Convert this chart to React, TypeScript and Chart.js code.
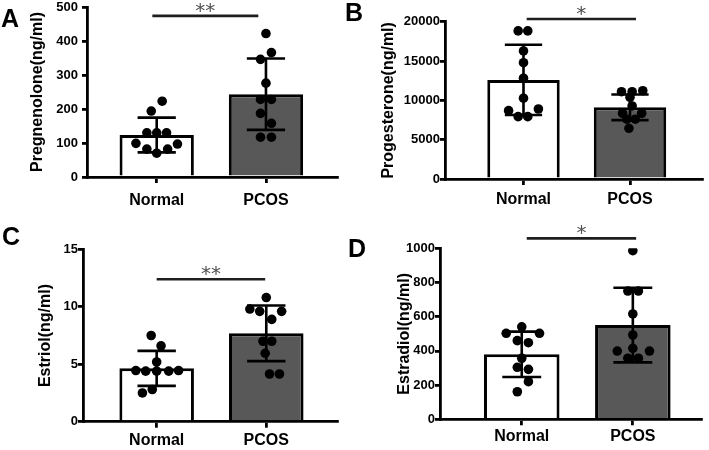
import { useEffect, useRef } from 'react';
import { Chart, registerables } from 'chart.js';

Chart.register(...registerables);

const FONT = "'Liberation Sans', Arial, Helvetica, sans-serif";

// Categories
const groups = ['Normal', 'PCOS'];

// ---- A: Pregnenolone ----
const pregMeans = [123.5, 243.5];
const pregSD = [51, 105];
const pregNormalY = [223, 194, 130, 130, 130, 99, 97, 82, 70, 82];
const pregNormalJitter = [0.05, -0.05, -0.09, 0, 0.09, -0.19, 0.19, -0.09, 0, 0.1];
const pregPcosY = [422, 366, 346, 276, 228, 228, 187, 158, 117, 117];
const pregPcosJitter = [0, 0.05, -0.05, 0, -0.05, 0.05, -0.05, 0.05, -0.05, 0.05];
const pregSig = [-0.04, 0.93, 474];
const pregTicks = [0, 500, 100];

// ---- B: Progesterone ----
const progMeans = [12600, 9120];
const progSD = [4470, 1630];
const progNormalY = [18830, 18830, 16280, 14790, 12810, 10270, 8690, 8900, 7930, 7930];
const progNormalJitter = [-0.05, 0.04, 0, 0, 0, 0, -0.14, 0.14, -0.05, 0.04];
const progPcosY = [11100, 11100, 11230, 10390, 9290, 8360, 8360, 7600, 7600, 6450];
const progPcosJitter = [-0.08, 0.02, 0.12, 0, 0.02, -0.07, 0.11, -0.03, 0.05, -0.01];
const progSig = [0.03, 1.056, 20350];
const progTicks = [0, 20000, 5000];

// ---- C: Estriol ----
const estriolMeans = [4.64, 7.69];
const estriolSD = [1.52, 2.42];
const estriolNormalY = [7.5, 6.6, 5.2, 4.45, 4.4, 4.4, 4.4, 4.45, 2.5, 2.8];
const estriolNormalJitter = [-0.05, 0.04, 0, -0.19, -0.1, 0, 0.11, 0.2, -0.13, -0.04];
const estriolPcosY = [10.8, 9.8, 9.6, 8.9, 9.6, 7.0, 7.0, 5.95, 4.15, 4.15];
const estriolPcosJitter = [0, -0.15, -0.06, 0.05, 0.14, -0.03, 0.05, -0.01, 0.03, 0.12];
const estriolSig = [0, 0.99, 12.4];
const estriolTicks = [0, 15, 5];

// ---- D: Estradiol ----
const estradiolMeans = [380, 551];
const estradiolSD = [133, 218];
const estradiolNormalY = [541, 503, 503, 460, 448, 357, 304, 292, 220, 161];
const estradiolNormalJitter = [0, -0.14, 0.16, -0.04, 0.06, 0, -0.04, 0.06, 0.06, -0.04];
const estradiolPcosY = [986, 750, 750, 616, 493, 399, 415, 399, 357, 357];
const estradiolPcosJitter = [0, -0.045, 0.05, 0, 0, -0.14, 0, 0.15, -0.045, 0.05];
const estradiolSig = [0.045, 1.03, 1058];
const estradiolTicks = [0, 1000, 200];

type Panel = {
  letter: string;
  title: string;
  stars: string;
  means: number[];
  sds: number[];
  normalY: number[];
  normalJ: number[];
  pcosY: number[];
  pcosJ: number[];
  sig: number[];
  yTicks: number[];
  frame: { left: number; top: number; w: number; h: number };
  area: { left: number; top: number; right: number; bottom: number };
  xRange: number[];
  titleCenter: number;
  xPad: number;
  yPad: number;
  letterPos: number[];
};

const panels: Panel[] = [
  {
    letter: 'A', title: 'Pregnenolone(ng/ml)', stars: '**',
    means: pregMeans, sds: pregSD, normalY: pregNormalY, normalJ: pregNormalJitter,
    pcosY: pregPcosY, pcosJ: pregPcosJitter, sig: pregSig, yTicks: pregTicks,
    frame: { left: 0, top: 0, w: 342, h: 222 },
    area: { left: 87, top: 7, right: 340, bottom: 177 },
    xRange: [-0.638, 1.652], titleCenter: 37.5, xPad: 8, yPad: 4, letterPos: [1, 27],
  },
  {
    letter: 'B', title: 'Progesterone(ng/ml)', stars: '*',
    means: progMeans, sds: progSD, normalY: progNormalY, normalJ: progNormalJitter,
    pcosY: progPcosY, pcosJ: progPcosJitter, sig: progSig, yTicks: progTicks,
    frame: { left: 342, top: 0, w: 367, h: 222 },
    area: { left: 103, top: 21.7, right: 360, bottom: 179 },
    xRange: [-0.737, 1.676], titleCenter: 46.3, xPad: 4.5, yPad: 0, letterPos: [3, 21],
  },
  {
    letter: 'C', title: 'Estriol(ng/ml)', stars: '**',
    means: estriolMeans, sds: estriolSD, normalY: estriolNormalY, normalJ: estriolNormalJitter,
    pcosY: estriolPcosY, pcosJ: estriolPcosJitter, sig: estriolSig, yTicks: estriolTicks,
    frame: { left: 0, top: 222, w: 342, h: 228 },
    area: { left: 83, top: 27.3, right: 340, bottom: 199.7 },
    xRange: [-0.672, 1.647], titleCenter: 46, xPad: 3.5, yPad: 0, letterPos: [2, 23],
  },
  {
    letter: 'D', title: 'Estradiol(ng/ml)', stars: '*',
    means: estradiolMeans, sds: estradiolSD, normalY: estradiolNormalY, normalJ: estradiolNormalJitter,
    pcosY: estradiolPcosY, pcosJ: estradiolPcosJitter, sig: estradiolSig, yTicks: estradiolTicks,
    frame: { left: 342, top: 222, w: 367, h: 228 },
    area: { left: 98, top: 26.3, right: 359.7, bottom: 197.3 },
    xRange: [-0.736, 1.62], titleCenter: 63, xPad: 1.6, yPad: 0, letterPos: [6, 35],
  },
];

const decorPlugin = {
  id: 'decor',
  afterDatasetDraw(chart: any, args: any) {
    if (args.index !== 0) return;
    const p: Panel = chart.options.plugins.decor.panel;
    const { ctx } = chart;
    const xs = chart.scales.x;
    const ys = chart.scales.y;
    const capHalf = 0.175;
    ctx.save();
    ctx.strokeStyle = '#000';
    ctx.lineWidth = 2.6;
    ctx.lineCap = 'butt';
    for (let i = 0; i < p.means.length; i++) {
      const x = xs.getPixelForValue(i);
      const yt = ys.getPixelForValue(p.means[i] + p.sds[i]);
      const yb = ys.getPixelForValue(p.means[i] - p.sds[i]);
      const xl = xs.getPixelForValue(i - capHalf);
      const xr = xs.getPixelForValue(i + capHalf);
      ctx.beginPath();
      ctx.moveTo(x, yt);
      ctx.lineTo(x, yb);
      ctx.moveTo(xl, yt);
      ctx.lineTo(xr, yt);
      ctx.moveTo(xl, yb);
      ctx.lineTo(xr, yb);
      ctx.stroke();
    }
    ctx.restore();
  },
  afterDraw(chart: any) {
    const p: Panel = chart.options.plugins.decor.panel;
    const { ctx } = chart;
    const xs = chart.scales.x;
    const ys = chart.scales.y;
    ctx.save();
    // significance line
    const x1 = xs.getPixelForValue(p.sig[0]);
    const x2 = xs.getPixelForValue(p.sig[1]);
    const y = ys.getPixelForValue(p.sig[2]);
    ctx.strokeStyle = '#1e1e1e';
    ctx.lineWidth = 2.6;
    ctx.beginPath();
    ctx.moveTo(x1, y);
    ctx.lineTo(x2, y);
    ctx.stroke();
    ctx.fillStyle = '#505050';
    ctx.font = "20px 'DejaVu Sans', sans-serif";
    ctx.textAlign = 'center';
    ctx.textBaseline = 'alphabetic';
    ctx.fillText(p.stars, (x1 + x2) / 2, y + 1);
    // panel letter
    ctx.fillStyle = '#000';
    ctx.font = `bold 25px ${FONT}`;
    ctx.textAlign = 'left';
    ctx.fillText(p.letter, p.letterPos[0], p.letterPos[1]);
    ctx.restore();
  },
};

function PanelChart({ p }: { p: Panel }) {
  const ref = useRef<HTMLCanvasElement>(null);
  useEffect(() => {
    if (!ref.current) return;
    const points = [
      ...p.normalY.map((v, k) => ({ x: 0 + p.normalJ[k], y: v })),
      ...p.pcosY.map((v, k) => ({ x: 1 + p.pcosJ[k], y: v })),
    ];
    const axisGrid = { display: true, drawOnChartArea: false, drawTicks: true, tickLength: 5, color: '#000', lineWidth: 2.8, offset: false };
    const axisBorder = { display: true, color: '#000', width: 2.8 };
    const chart = new Chart(ref.current, {
      type: 'bar',
      data: {
        datasets: [
          {
            type: 'bar',
            data: p.means.map((m, i) => ({ x: i, y: m })),
            backgroundColor: ['#ffffff', '#585858'],
            borderColor: '#000',
            borderWidth: 3,
            barPercentage: 0.68,
            categoryPercentage: 1,
            order: 2,
          } as any,
          {
            type: 'scatter',
            data: points,
            pointRadius: 4.8,
            pointBackgroundColor: '#000',
            pointBorderWidth: 0,
            order: 1,
          } as any,
        ],
      },
      options: {
        animation: false,
        responsive: false,
        maintainAspectRatio: false,
        events: [],
        layout: { padding: { left: 0, top: p.area.top, right: p.frame.w - p.area.right, bottom: 0 } },
        plugins: {
          legend: { display: false },
          tooltip: { enabled: false },
          decor: { panel: p },
        } as any,
        scales: {
          x: {
            type: 'linear',
            offset: false,
            bounds: 'data',
            min: p.xRange[0],
            max: p.xRange[1],
            afterBuildTicks: (s: any) => { s.ticks = groups.map((_, i) => ({ value: i })); },
            afterFit: (s: any) => { s.height = p.frame.h - p.area.bottom; s.paddingLeft = 0; s.paddingRight = 0; },
            ticks: {
              callback: (v: any) => groups[v] ?? '',
              color: '#000',
              font: { family: FONT, size: 16, weight: 'bold' },
              padding: p.xPad,
              maxRotation: 0,
              autoSkip: false,
            },
            grid: { ...axisGrid, tickLength: 6 },
            border: axisBorder,
          },
          y: {
            type: 'linear',
            min: p.yTicks[0],
            max: p.yTicks[1],
            afterFit: (s: any) => { s.width = p.area.left; s.paddingTop = 0; s.paddingBottom = 0; },
            ticks: {
              stepSize: p.yTicks[2],
              color: '#000',
              font: { family: FONT, size: 13, weight: 'bold' },
              padding: p.yPad,
              callback: (v: any) => String(v),
            },
            grid: axisGrid,
            border: axisBorder,
            title: {
              display: true,
              text: p.title,
              color: '#000',
              font: { family: FONT, size: 16, weight: 'bold' },
              padding: { top: p.titleCenter - 9.6, bottom: 0 },
            },
          },
        },
      } as any,
      plugins: [decorPlugin],
    });
    return () => chart.destroy();
  }, [p]);
  return (
    <canvas
      ref={ref}
      width={p.frame.w}
      height={p.frame.h}
      style={{ position: 'absolute', left: p.frame.left, top: p.frame.top, width: p.frame.w, height: p.frame.h }}
    />
  );
}

export default function App() {
  return (
    <div style={{ position: 'absolute', left: 0, top: 0, width: 709, height: 450, background: '#fff', overflow: 'hidden' }}>
      {panels.map((p) => (
        <PanelChart key={p.letter} p={p} />
      ))}
    </div>
  );
}
